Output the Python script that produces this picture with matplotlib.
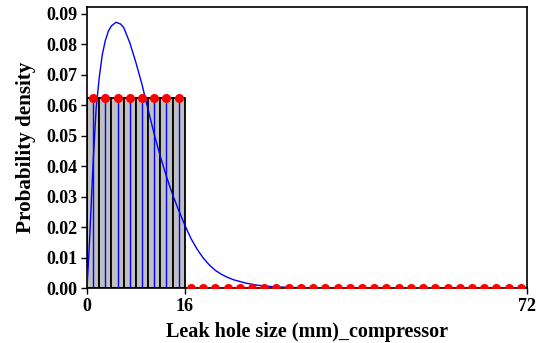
import matplotlib
matplotlib.use("Agg")
import matplotlib.pyplot as plt

# Histogram bars (uniform density over 0-16)
bar_left = [0, 2, 4, 6, 8, 10, 12, 14]
bar_height = [0.0625] * 8
bar_width = 2

# Stem points (red dots)
stem_x = [1, 3, 5, 7, 9, 11, 13, 15]
stem_y = [0.0625] * 8
zero_x = list(range(17, 72, 2))
zero_y = [0.0] * len(zero_x)

# Blue fitted curve
curve_x = [0, 0.25, 0.5, 0.75, 1, 1.5, 2, 2.5, 3, 3.5, 4, 4.75, 5.5, 6, 7, 8, 9, 10,
           11, 12, 13, 14, 15, 16, 17, 18, 19, 20, 21, 22, 23, 24, 26, 28, 30,
           33, 36, 40]
curve_y = [0, 0.009, 0.019, 0.030, 0.041, 0.059, 0.069, 0.0765, 0.0812, 0.0843,
           0.086, 0.0872, 0.0866, 0.0855, 0.0805, 0.0740, 0.0668, 0.0585, 0.0505,
           0.0432, 0.0366, 0.0307, 0.0255, 0.0207, 0.0163, 0.0128, 0.0099,
           0.0076, 0.0058, 0.0045, 0.0035, 0.0027, 0.0016, 0.0009, 0.0005,
           0.0002, 0.0001, 0.0]

xticks = [0, 16, 72]
yticks = [0.00, 0.01, 0.02, 0.03, 0.04, 0.05, 0.06, 0.07, 0.08, 0.09]

plt.rcParams['font.family'] = ['Liberation Serif', 'DejaVu Serif']
plt.rcParams['font.weight'] = 'bold'

fig = plt.figure(figsize=(5.42, 3.43), dpi=100)
ax = fig.add_axes([0.1605, 0.1603, 0.8118, 0.8193])

ax.bar(bar_left, bar_height, width=bar_width, align='edge',
       color='#c0c0c0', edgecolor='black', linewidth=1.3, zorder=1)
ax.vlines(stem_x, 0, stem_y, color='blue', linewidth=1.0, zorder=2)
ax.plot(curve_x, curve_y, color='blue', linewidth=1.0, zorder=3)
ax.plot(stem_x, stem_y, 'o', color='red', markersize=5.5, zorder=4)
ax.plot(zero_x, zero_y, 'o', color='red', markersize=5.5, zorder=4)

ax.set_xlim(0, 72)
ax.set_ylim(0, 0.0922)
ax.set_xticks(xticks)
ax.set_xticklabels([str(v) for v in xticks])
ax.set_yticks(yticks)
ax.set_yticklabels([f"{v:.2f}" for v in yticks])
ax.tick_params(direction='out', length=4, width=1, labelsize=13, pad=3)
for lab in ax.get_xticklabels() + ax.get_yticklabels():
    lab.set_fontweight('bold')
for s in ax.spines.values():
    s.set_linewidth(1.2)

ax.set_xlabel("Leak hole size (mm)_compressor", fontsize=14.5, fontweight='bold', labelpad=5)
ax.set_ylabel("Probability density", fontsize=15.2, fontweight='bold', labelpad=7)

fig.savefig("out.png", dpi=100)
